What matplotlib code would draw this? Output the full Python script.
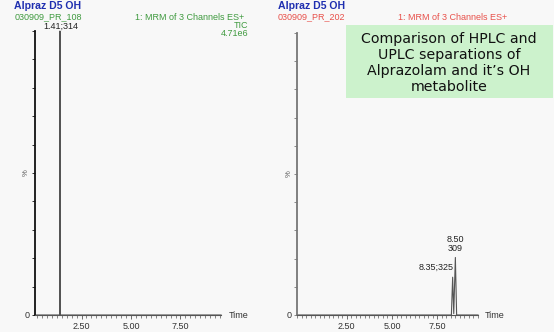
import matplotlib
matplotlib.use("Agg")
import matplotlib.pyplot as plt
from matplotlib.ticker import MultipleLocator, FixedLocator
from matplotlib.patches import Rectangle

# ---- data ----
left_time = [0.15, 1.40, 1.41, 1.42, 9.55]
left_pct = [0, 0, 100, 0, 0]
right_time = [-0.25, 8.28, 8.35, 8.41, 8.50, 8.57, 9.75]
right_pct = [0, 0, 13.4, 0.5, 20.4, 0, 0]
xtick_vals = [2.5, 5.0, 7.5]
xtick_labels = ["2.50", "5.00", "7.50"]

left_peak_label = "1.41;314"
right_peak1_label = "8.35;325"
right_peak2_label = "8.50\n309"

BG = "#f8f8f8"
BLUE = "#1f2fb0"
GREEN = "#3f9a3f"
RED = "#e8504a"

fig = plt.figure(figsize=(5.54, 3.32), dpi=100, facecolor=BG)
plt.rcParams['font.family'] = ['Liberation Sans', 'DejaVu Sans']

def make_ax(rect, t, p, xlim, axcol, linecol):
    ax = fig.add_axes(rect)
    ax.set_facecolor(BG)
    ax.plot(t, p, color=linecol, lw=0.8, clip_on=False)
    ax.set_xlim(*xlim)
    ax.set_ylim(0, 100)
    for s in ("top", "right"):
        ax.spines[s].set_visible(False)
    ax.spines["left"].set_color(axcol)
    ax.spines["left"].set_linewidth(1.3)
    ax.spines["bottom"].set_color("#555555")
    ax.spines["bottom"].set_linewidth(0.8)
    ax.xaxis.set_major_locator(FixedLocator(xtick_vals))
    ax.set_xticklabels(xtick_labels)
    ax.xaxis.set_minor_locator(MultipleLocator(0.25))
    ax.tick_params(axis="x", which="major", length=3, width=0.6, colors="#555555",
                   labelsize=6.5, labelcolor="#333333", pad=2)
    ax.tick_params(axis="x", which="minor", length=1.8, width=0.5, colors="#555555")
    ax.yaxis.set_major_locator(MultipleLocator(10))
    ax.tick_params(axis="y", which="major", length=2.5, width=0.6, colors=axcol,
                   labelleft=False)
    ax.text(-0.03, 0, "0", transform=ax.transAxes, ha="right", va="center",
            fontsize=6.5, color="#333333")
    ax.text(-0.045, 0.5, "%", transform=ax.transAxes, ha="center", va="center",
            fontsize=5.5, color="#555555", rotation=90)
    ax.text(1.04, 0, "Time", transform=ax.transAxes, ha="left", va="center",
            fontsize=6.5, color="#333333")
    return ax

axL = make_ax([0.0632, 0.0512, 0.3358, 0.8554], left_time, left_pct, (0.15, 9.55),
              "#111111", "#555555")
axR = make_ax([0.5361, 0.0512, 0.3267, 0.8494], right_time, right_pct, (-0.25, 9.75),
              "#777777", "#555555")

fig.text(61 / 554, 1 - 26 / 332, left_peak_label, ha="center", va="center",
         fontsize=6.5, color="#222222")
axR.text(right_time[2] + 0.05, right_pct[2] + 2.0, right_peak1_label, ha="right",
         va="bottom", fontsize=6.5, color="#222222")
axR.text(right_time[4], right_pct[4] + 1.5, right_peak2_label, ha="center",
         va="bottom", fontsize=6.5, color="#222222", linespacing=1.1)

# headers
fig.text(14 / 554, 1 - 6 / 332, "Alpraz D5 OH", fontsize=7.6, fontweight="bold",
         color=BLUE, ha="left", va="center")
fig.text(15 / 554, 1 - 17 / 332, "030909_PR_108", fontsize=6.5, color=GREEN,
         ha="left", va="center")
fig.text(244 / 554, 1 - 17 / 332, "1: MRM of 3 Channels ES+", fontsize=6.5,
         color=GREEN, ha="right", va="center")
fig.text(248 / 554, 1 - 25.5 / 332, "TIC", fontsize=6.5, color=GREEN,
         ha="right", va="center")
fig.text(248 / 554, 1 - 34 / 332, "4.71e6", fontsize=6.5, color=GREEN,
         ha="right", va="center")

fig.text(278 / 554, 1 - 6 / 332, "Alpraz D5 OH", fontsize=7.6, fontweight="bold",
         color=BLUE, ha="left", va="center")
fig.text(278 / 554, 1 - 17 / 332, "030909_PR_202", fontsize=6.5, color=RED,
         ha="left", va="center")
fig.text(453 / 554, 1 - 17 / 332, "1: MRM of 3 Channels ES+", fontsize=6.5,
         color=RED, ha="center", va="center")

# green annotation box
fig.patches.append(Rectangle((346 / 554, 1 - 98 / 332), 207 / 554, 73 / 332,
                             transform=fig.transFigure, facecolor="#ccf2cc",
                             edgecolor="none", zorder=5))
fig.text(449 / 554, 1 - 63 / 332,
         "Comparison of HPLC and\nUPLC separations of\nAlprazolam and it\u2019s OH\nmetabolite",
         fontsize=10.2, family=["DejaVu Sans"], color="#111111", ha="center",
         va="center", linespacing=1.2, zorder=6)

fig.savefig("out.png", dpi=100, facecolor=BG)
